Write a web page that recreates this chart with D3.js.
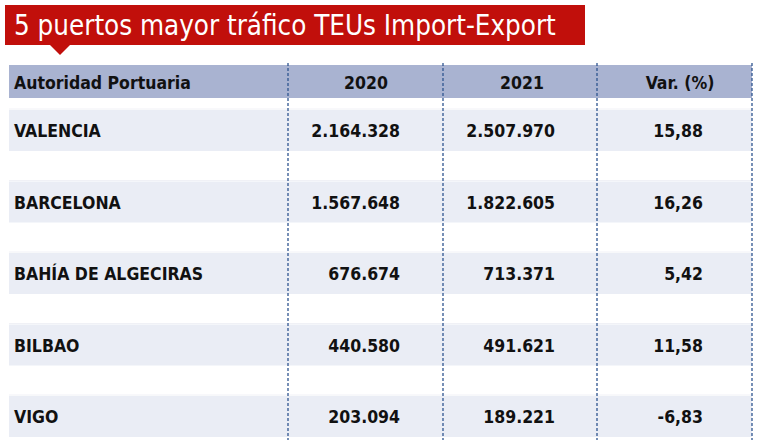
<!DOCTYPE html><html><head><meta charset="utf-8">
<script src="https://cdn.jsdelivr.net/npm/d3@7"></script>
<style>body{margin:0;background:#fff}</style></head><body>
<svg id="c" width="760" height="447"></svg>
<script>
const title = "5 puertos mayor tráfico TEUs Import-Export";
const headers = ["Autoridad Portuaria","2020","2021","Var. (%)"];
const ports = ["VALENCIA","BARCELONA","BAHÍA DE ALGECIRAS","BILBAO","VIGO"];
const teu2020 = ["2.164.328","1.567.648","676.674","440.580","203.094"];
const teu2021 = ["2.507.970","1.822.605","713.371","491.621","189.221"];
const variation = ["15,88","16,26","5,42","11,58","-6,83"];

const svg = d3.select("#c");
const font = "'DejaVu Sans Condensed','DejaVu Sans',sans-serif";
svg.append("rect").attr("x",5).attr("y",5).attr("width",580).attr("height",40).attr("fill","#c10f0b");
svg.append("path").attr("d","M50,45 L70,45 L60,55 Z").attr("fill","#c10f0b");
svg.append("text").attr("x",14).attr("y",35).attr("fill","#fff").attr("font-family",font)
  .attr("font-size",27.5).text(title);

svg.append("rect").attr("x",9).attr("y",65).attr("width",743).attr("height",33).attr("fill","#a9b3d1");
const hx = [14, 366, 522, 680];
headers.forEach((h,i)=>{
  svg.append("text").attr("x",hx[i]).attr("y",89)
    .attr("text-anchor",i===0?"start":"middle").attr("font-family",font).attr("font-weight","bold")
    .attr("font-size",17.5).attr("fill","#111").text(h);
});
const rows = ports.map((p,i)=>({p,a:teu2020[i],b:teu2021[i],v:variation[i],i}));
const y = d3.scaleLinear().domain([0,4]).range([110,396]);
const g = svg.selectAll("g.r").data(rows).join("g");
g.append("rect").attr("x",9).attr("y",d=>y(d.i)).attr("width",743).attr("height",41).attr("fill","#eaedf5");
g.append("line").attr("x1",9).attr("x2",752).attr("y1",d=>y(d.i)-1).attr("y2",d=>y(d.i)-1).attr("stroke","#f0f1f6");
[["p",14,"start"],["a",400,"end"],["b",555,"end"],["v",703,"end"]].forEach(([k,x,a])=>{
  g.append("text").attr("x",x).attr("y",d=>y(d.i)+27).attr("text-anchor",a)
   .attr("font-family",font).attr("font-weight","bold").attr("font-size",17.5).attr("fill","#111").text(d=>d[k]);
});
[288,443,597,752].forEach(x=>{
  svg.append("line").attr("x1",x).attr("x2",x).attr("y1",63).attr("y2",440)
   .attr("stroke","#2e5590").attr("stroke-width",1.3).attr("stroke-dasharray","3,2");
});
</script></body></html>
